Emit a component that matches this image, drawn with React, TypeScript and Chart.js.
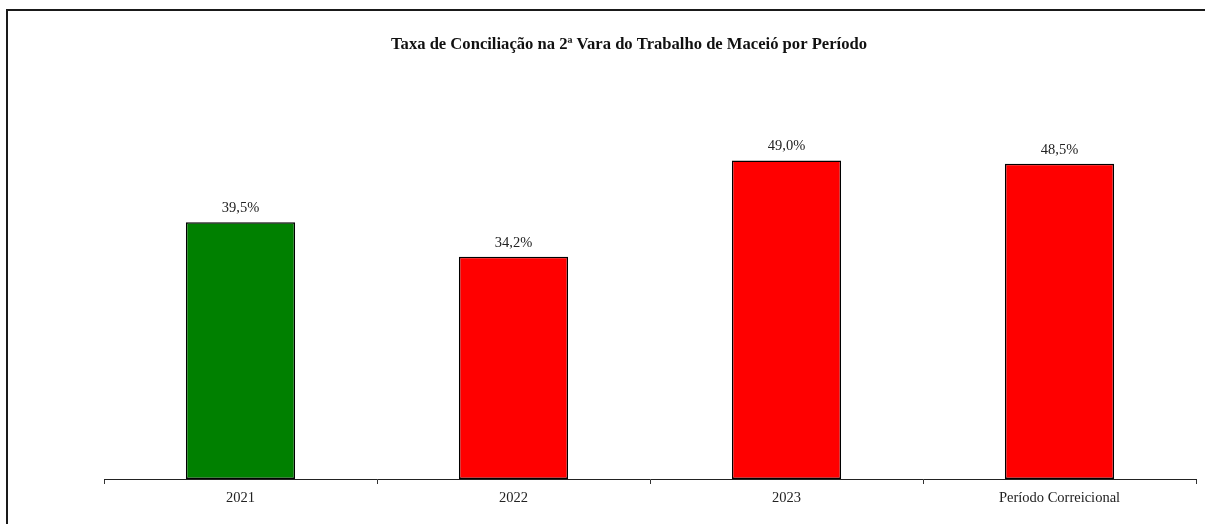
import React, { useEffect, useRef } from "react";
import { Chart, registerables } from "chart.js";

Chart.register(...registerables);

const TITLE = "Taxa de Conciliação na 2ª Vara do Trabalho de Maceió por Período";
const categories = ["2021", "2022", "2023", "Período Correicional"];
const values = [39.5, 34.2, 49.0, 48.5];
const valueLabels = ["39,5%", "34,2%", "49,0%", "48,5%"];
const barColors = ["#008000", "#FF0000", "#FF0000", "#FF0000"];

const FONT = "'Liberation Serif', 'Times New Roman', serif";

const framePlugin = {
  id: "frame",
  beforeDraw(chart: any) {
    const ctx = chart.ctx;
    ctx.save();
    ctx.strokeStyle = "#1a1a1a";
    ctx.lineWidth = 2;
    ctx.beginPath();
    ctx.moveTo(7, chart.height + 5);
    ctx.lineTo(7, 10);
    ctx.lineTo(chart.width + 5, 10);
    ctx.stroke();
    ctx.restore();
  },
};

const titlePlugin = {
  id: "customTitle",
  afterDraw(chart: any) {
    const ctx = chart.ctx;
    ctx.save();
    ctx.font = `bold 16.6px ${FONT}`;
    ctx.fillStyle = "#111";
    ctx.textAlign = "center";
    ctx.textBaseline = "middle";
    ctx.fillText(TITLE, 629, 45);
    ctx.restore();
  },
};

const valueLabelPlugin = {
  id: "valueLabels",
  afterDatasetsDraw(chart: any) {
    const ctx = chart.ctx;
    const meta = chart.getDatasetMeta(0);
    ctx.save();
    ctx.font = `14.5px ${FONT}`;
    ctx.fillStyle = "#222";
    ctx.textAlign = "center";
    ctx.textBaseline = "middle";
    meta.data.forEach((bar: any, i: number) => {
      ctx.fillText(valueLabels[i], bar.x, bar.y - 14);
    });
    ctx.restore();
  },
};

export default function App() {
  const canvasRef = useRef<HTMLCanvasElement | null>(null);

  useEffect(() => {
    if (!canvasRef.current) return;
    const chart = new Chart(canvasRef.current, {
      type: "bar",
      data: {
        labels: categories,
        datasets: [
          {
            data: values,
            backgroundColor: barColors,
            borderColor: "#000",
            borderWidth: 1.5,
            borderSkipped: false,
            barPercentage: 0.4,
            categoryPercentage: 1,
          },
        ],
      },
      options: {
        animation: false,
        responsive: false,
        maintainAspectRatio: false,
        layout: { padding: { left: 104, right: 9, top: 89, bottom: 0 } },
        plugins: {
          legend: { display: false },
          title: { display: false },
          tooltip: { enabled: false },
        },
        scales: {
          x: {
            afterFit: (scale: any) => {
              scale.height = 45;
            },
            grid: {
              offset: true,
              drawOnChartArea: false,
              drawTicks: true,
              tickLength: 5,
              color: "#333",
              lineWidth: 1,
            },
            border: { display: true, color: "#222", width: 1 },
            ticks: {
              padding: 5,
              color: "#222",
              font: { family: FONT, size: 14.5 },
              maxRotation: 0,
            },
          },
          y: {
            display: false,
            min: 0,
            max: 60,
          },
        },
      },
      plugins: [framePlugin, titlePlugin, valueLabelPlugin],
    });
    return () => chart.destroy();
  }, []);

  return (
    <div style={{ position: "fixed", left: 0, top: 0, width: 1205, height: 524, background: "#fff" }}>
      <canvas ref={canvasRef} width={1205} height={524} style={{ display: "block" }} />
    </div>
  );
}
